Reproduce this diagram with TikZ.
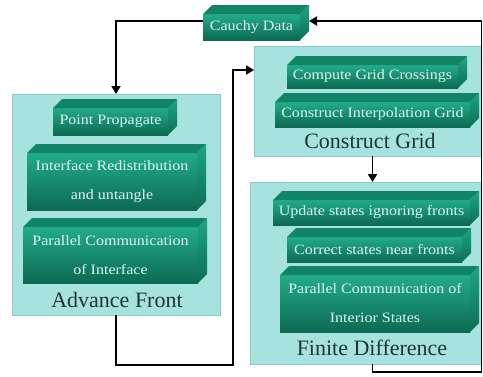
\documentclass[tikz,border=0pt]{standalone}
\usepackage{fontspec}
\setmainfont{Liberation Serif}
\newfontfamily\boxfont{Liberation Serif}[FakeStretch=1.12]
\usetikzlibrary{calc,arrows.meta}
\definecolor{outerfill}{HTML}{A6E3DF}
\definecolor{outerdraw}{HTML}{8DCDC8}
\definecolor{fronttop}{HTML}{22AC89}
\definecolor{frontbot}{HTML}{0B6A51}
\definecolor{sidetop}{HTML}{1EA584}
\definecolor{sidebot}{HTML}{0C6E55}
\definecolor{topfill}{HTML}{118468}
\definecolor{boxtext}{HTML}{DDF6EF}
\definecolor{titlecol}{HTML}{1F3535}
\newcommand\gbox[6]{%
  \node[front, minimum width={(#4-#2)*1pt}, minimum height={(#5-#3)*1pt}] (#1) at ({(#2+#4)/2},{(#3+#5)/2}) {#6};
  \shade[top color=sidetop, bottom color=sidebot] (#1.north east) -- ++(9,-9) -- ($(#1.south east)+(9,-9)$) -- (#1.south east) -- cycle;
  \fill[topfill] (#1.north west) -- ++(9,-9) -- ($(#1.north east)+(9,-9)$) -- (#1.north east) -- cycle;
}
\begin{document}
\begin{tikzpicture}[x=1pt,y=-1pt,
  outerbox/.style={fill=outerfill, draw=outerdraw, line width=0.6pt, inner sep=0pt, outer sep=0pt, anchor=north west},
  front/.style={top color=fronttop, bottom color=frontbot, inner sep=0pt, outer sep=0pt, text=boxtext,
    font=\boxfont\fontsize{14.3}{29}\selectfont, align=center},
  flow/.style={line width=1.8pt, black},
  arr/.style={flow, -{Triangle[length=8pt,width=9pt]}},
  title/.style={font=\fontsize{22}{24}\selectfont, text=titlecol}]
\useasboundingbox (0,0) rectangle (483,376);
\fill[white] (0,0) rectangle (483,376);

% outer boxes
\node[outerbox, minimum width=208pt, minimum height=221pt] (af) at (12,94) {};
\node[outerbox, minimum width=227pt, minimum height=110pt] (cg) at (254,46) {};
\node[outerbox, minimum width=231pt, minimum height=182pt] (fd) at (250,182) {};

% green 3D boxes
\gbox{cauchy}{203}{14}{300}{40}{Cauchy Data}
\gbox{pp}{53}{108}{168}{135}{Point Propagate}
\gbox{ir}{27}{153}{197}{210}{Interface Redistribution\\and untangle}
\gbox{pci}{23}{227}{198}{283}{Parallel Communication\\of Interface}
\gbox{cgc}{287}{65}{458}{88}{Compute Grid Crossings}
\gbox{cig}{275}{102}{470}{127}{Construct Interpolation Grid}
\gbox{usf}{273}{200}{470}{225}{Update states ignoring fronts}
\gbox{csn}{287}{237}{462}{262}{Correct states near fronts}
\gbox{pcis}{280}{275}{470}{332}{Parallel Communication of\\Interior States}

% titles
\node[title] (aft) at (117,300) {Advance Front};
\node[title] (cgt) at (370,141) {Construct Grid};
\node[title] (fdt) at (372,348) {Finite Difference};

% connectors
\coordinate (loopA) at (233,365);
\coordinate (loopB) at (481.5,372);
\coordinate (cgout) at ([xshift=5pt]cg.south);
\draw[arr] ([yshift=6pt]cauchy.west) -| (af.north);
\draw[arr] (af.south) |- (loopA) |- ([yshift=31pt]cg.west);
\draw[arr] (cgout) -- (cgout |- fd.north);
\draw[arr] (fd.south -| cgout) |- (loopB) |- ([xshift=9pt,yshift=6pt]cauchy.east);
\end{tikzpicture}
\end{document}
